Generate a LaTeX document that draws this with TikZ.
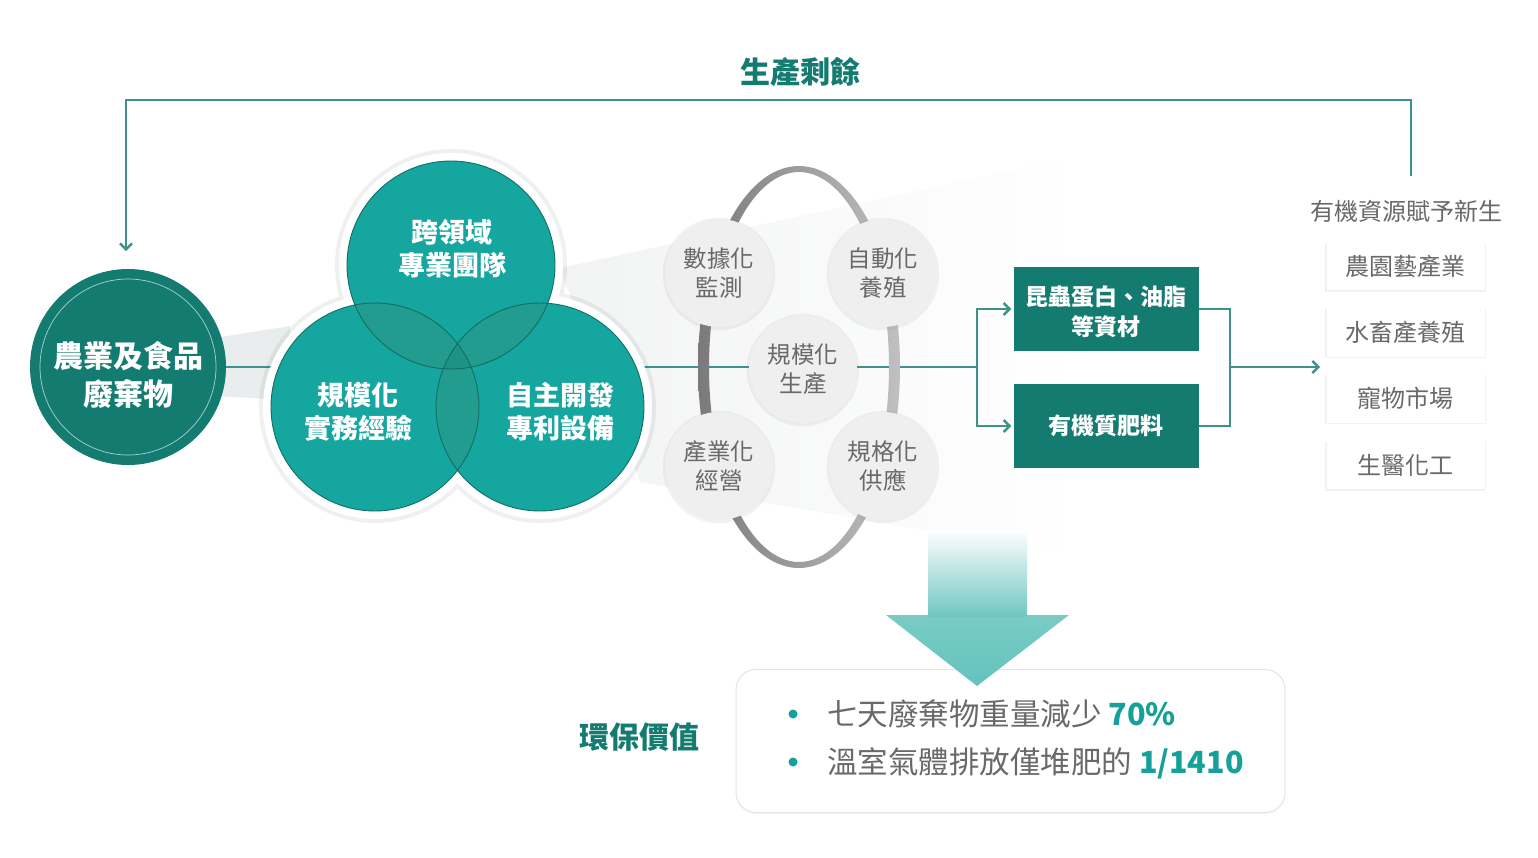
\documentclass[tikz,border=0pt]{standalone}
\usepackage{fontspec}
\setmainfont{Noto Sans CJK TC}
\usetikzlibrary{arrows.meta,shadows,calc}
\definecolor{dteal}{RGB}{20,123,113}
\definecolor{vteal}{RGB}{21,166,160}
\definecolor{vover}{RGB}{34,156,142}
\definecolor{vtriple}{RGB}{30,146,132}
\definecolor{vline}{RGB}{18,110,100}
\definecolor{lteal}{RGB}{62,146,140}
\definecolor{gtext}{RGB}{105,105,105}
\definecolor{gfill}{RGB}{239,239,239}
\definecolor{btxt}{RGB}{22,160,154}
\definecolor{arrc1}{RGB}{112,199,194}
\definecolor{arrc2}{RGB}{88,191,185}
\definecolor{ringd}{RGB}{122,122,122}
\definecolor{ringl}{RGB}{192,192,192}
\definecolor{wedgec}{RGB}{242,243,243}
\definecolor{wedgel}{RGB}{234,237,237}
\begin{document}
\begin{tikzpicture}[x=1pt,y=-1pt,
  conn/.style={lteal,line width=1.6pt},
  arr/.style={-{Straight Barb[length=6pt,width=12pt,line width=2.4pt]}},
  wastec/.style={circle,fill=dteal,minimum size=196pt,inner sep=0pt},
  wastet/.style={text=white,font=\fontsize{30}{38}\selectfont\bfseries,align=center},
  venntext/.style={text=white,font=\fontsize{27}{33}\selectfont\bfseries,align=center},
  vennc/.style={circle,fill=vteal,minimum size=208pt,inner sep=0pt},
  gcirc/.style={circle,fill=gfill,minimum size=108pt,inner sep=0pt,text=gtext,
    font=\fontsize{23.5}{29}\selectfont,align=center,
    drop shadow={shadow xshift=0pt,shadow yshift=-1pt,shadow scale=1.04,opacity=.10}},
  tbox/.style={rectangle,fill=dteal,minimum width=185pt,minimum height=84pt,inner sep=0pt},
  tboxt/.style={text=white,font=\fontsize{23}{30}\selectfont\bfseries,align=center},
  wbox/.style={rectangle,fill=white,minimum width=158pt,minimum height=48pt,inner sep=0pt,
    text=gtext,font=\fontsize{24}{26}\selectfont,
    drop shadow={shadow xshift=0pt,shadow yshift=-1pt,shadow scale=1.02,opacity=.10}},
  bul/.style={circle,fill=btxt,minimum size=9pt,inner sep=0pt},
  btext/.style={anchor=west,text=gtext,font=\fontsize{30.5}{34}\selectfont,inner sep=0pt}
]
\useasboundingbox (0,0) rectangle (1538,857);
\fill[white] (0,0) rectangle (1538,857);

% light wedges
\shade[left color=wedgec,right color=white] (560,268) -- (1080,156) -- (1080,556) -- (640,482) -- cycle;
\fill[wedgel] (215,338) -- (290,326) -- (290,400) -- (215,396) -- cycle;

% title
\node[text=dteal,font=\fontsize{30}{32}\selectfont\bfseries] (title) at (800,72) {生產剩餘};

% waste circle
\node[wastec] (waste) at (128,367) {};
\draw[white,opacity=.65,line width=.7pt] (waste.center) circle[radius=88];
\node[wastet] (wastetxt) at (128,375) {農業及食品\\廢棄物};

% main line
\coordinate (branch) at (977,367);
\draw[conn] (waste.east) -- (branch);

% Venn halo
\fill[black,opacity=.06] (451,265) circle[radius=116] (375,407) circle[radius=116] (540,407) circle[radius=116];
\fill[white] (451,265) circle[radius=112] (375,407) circle[radius=112] (540,407) circle[radius=112];
\node[vennc] (vt) at (451,265) {};
\node[vennc] (vl) at (375,407) {};
\node[vennc] (vr) at (540,407) {};
\begin{scope}
  \clip (vt.center) circle[radius=104];
  \fill[vover] (vl.center) circle[radius=104];
  \fill[vover] (vr.center) circle[radius=104];
\end{scope}
\begin{scope}
  \clip (vl.center) circle[radius=104];
  \fill[vover] (vr.center) circle[radius=104];
\end{scope}
\begin{scope}
  \clip (vt.center) circle[radius=104];
  \clip (vl.center) circle[radius=104];
  \fill[vtriple] (vr.center) circle[radius=104];
\end{scope}
\draw[vline,line width=.9pt] (vt.center) circle[radius=104] (vl.center) circle[radius=104] (vr.center) circle[radius=104];
\node[venntext] (vtt) at (452,249) {跨領域\\專業團隊};
\node[venntext] (vlt) at (358,412) {規模化\\實務經驗};
\node[venntext] (vrt) at (560,412) {自主開發\\專利設備};

% ring
\shade[left color=ringd,right color=ringl,even odd rule]
  (799,367) ellipse[x radius=101,y radius=201] (799,367) ellipse[x radius=90,y radius=195];

% gray circles
\node[gcirc] (g1) at (719,273) {數據化\\監測};
\node[gcirc] (g2) at (883,273) {自動化\\養殖};
\node[gcirc] (g3) at (803,369) {規模化\\生產};
\node[gcirc] (g4) at (719,466) {產業化\\經營};
\node[gcirc] (g5) at (883,466) {規格化\\供應};

% teal boxes
\node[tbox] (box1) at (1106,309) {};
\node[tbox] (box2) at (1106,426) {};
\node[tboxt] (box1t) at (1106,312) {昆蟲蛋白、油脂\\等資材};
\node[tboxt] (box2t) at (1106,426) {有機質肥料};
\draw[conn,arr,shorten >=2pt] (branch) |- (box1.west);
\draw[conn,arr,shorten >=2pt] (branch) |- (box2.west);
\coordinate (merge) at (1230,367);
\coordinate (outend) at (1320,367);
\draw[conn] (box1.east) -| (merge);
\draw[conn] (box2.east) -| (merge);
\draw[conn,arr] (merge) -- (outend);

% right column
\node[text=gtext,font=\fontsize{24}{26}\selectfont] (hdr) at (1406,211) {有機資源賦予新生};
\node[wbox] (w1) at (1405.5,266) {農園藝產業};
\node[wbox] (w2) at (1405.5,332.5) {水畜產養殖};
\node[wbox] (w3) at (1405.5,398.5) {寵物市場};
\node[wbox] (w4) at (1405.5,465) {生醫化工};

% feedback loop
\coordinate (fbstart) at (1411,176);
\coordinate (fbcorner) at (1411,100);
\coordinate (fbend) at (126,251);
\draw[conn,arr] (fbstart) -- (fbcorner) -| (fbend);

% bottom box
\node[rectangle,rounded corners=20pt,fill=white,draw=black!10,line width=1pt,
  minimum width=549pt,minimum height=143pt,
  drop shadow={shadow xshift=0pt,shadow yshift=-1.5pt,shadow scale=1.0,opacity=.07}] (vbox) at (1010.5,741) {};

% big down arrow
\shade[top color=white,bottom color=arrc1] (928,530) rectangle (1027,616);
\shade[top color=arrc1,bottom color=arrc2,opacity=.93] (886,615) -- (1069,615) -- (977,686) -- cycle;

\node[text=dteal,font=\fontsize{30}{32}\selectfont\bfseries] (envlabel) at (639,737) {環保價值};
\node[bul] (b1) at (793,714) {};
\node[bul] (b2) at (793,762) {};
\node[btext] (t1) at (827,714) {七天廢棄物重量減少 \textcolor{btxt}{\bfseries 70\%}};
\node[btext] (t2) at (827,763) {溫室氣體排放僅堆肥的 \textcolor{btxt}{\bfseries 1/1410}};
\end{tikzpicture}
\end{document}
